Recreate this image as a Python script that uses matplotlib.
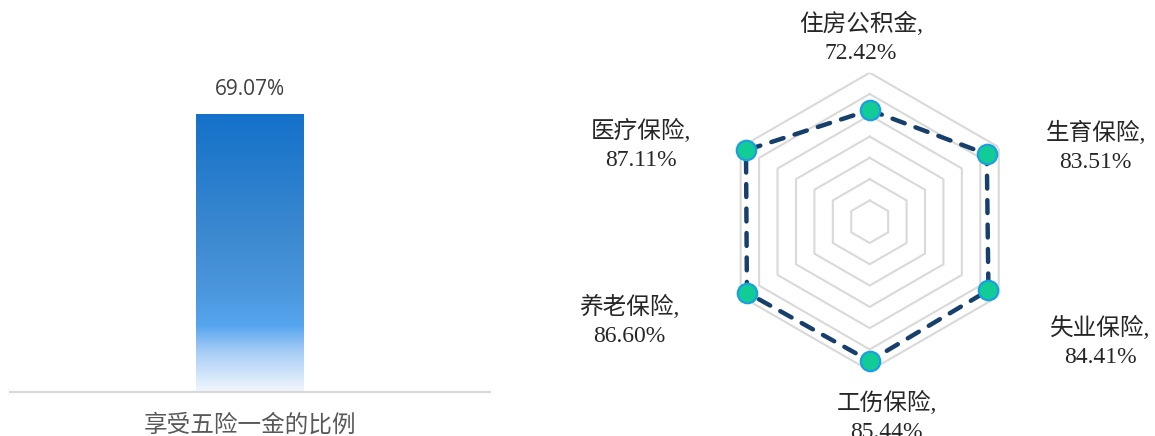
import numpy as np
import matplotlib
matplotlib.use("Agg")
import matplotlib.pyplot as plt
from matplotlib.colors import LinearSegmentedColormap

plt.rcParams['font.family'] = ['Liberation Serif', 'Noto Sans CJK SC', 'DejaVu Sans']

# left bar
bar_cats = ['享受五险一金的比例']
bar_vals = [69.07]

# radar (clockwise from top)
radar_cats = ['住房公积金', '生育保险', '失业保险', '工伤保险', '养老保险', '医疗保险']
radar_vals = [72.42, 83.51, 84.41, 85.44, 86.60, 87.11]
radar_ticks = [30, 40, 50, 60, 70, 80, 90]

fig = plt.figure(figsize=(11.55, 4.36), dpi=100)

# ---- bar chart ----
ax = fig.add_axes([10/1155, 44/436, 480/1155, 362/436])
bars = ax.bar(range(len(bar_vals)), bar_vals, width=0.223, color='none', zorder=2)

grad = LinearSegmentedColormap.from_list('g', [
    (0.0, '#1471C9'), (0.45, '#3E8AD0'), (0.62, '#4A95DB'),
    (0.76, '#55A5EE'), (0.86, '#A9CEF6'), (1.0, '#F2F7FD')])
for b in bars:
    x0, y0 = b.get_x(), b.get_y()
    w, h = b.get_width(), b.get_height()
    im = ax.imshow(np.linspace(0, 1, 256).reshape(-1, 1), cmap=grad, aspect='auto',
                   extent=(x0, x0 + w, y0, y0 + h), origin='upper', zorder=2)
    im.set_clip_path(b)
    ax.annotate(f'{b.get_height():.2f}%', (x0 + w/2, y0 + h), xytext=(0, 18),
                textcoords='offset points', ha='center', va='center',
                fontsize=15, color='#404040', family=['Open Sans', 'DejaVu Sans'])
ax.set_xlim(-0.5, 0.5)
ax.set_ylim(0, 90)

for s in ['top', 'right', 'left']:
    ax.spines[s].set_visible(False)
ax.spines['bottom'].set_color('#d9d9d9')
ax.spines['bottom'].set_linewidth(1.6)
ax.set_yticks([])
ax.set_xticks(range(len(bar_cats)), bar_cats)
ax.tick_params(axis='x', length=0, pad=16, labelsize=17, labelcolor='#595959')

# ---- radar ----
cx, cy, rr = 869.7, 221.7, 149
rax = fig.add_axes([(cx - rr)/1155, (436 - cy - rr)/436, 2*rr/1155, 2*rr/436], projection='polar')
rax.set_theta_zero_location('N')
rax.set_theta_direction(-1)
rax.set_ylim(20, 90)
rax.grid(False)
rax.spines['polar'].set_visible(False)
rax.set_xticks([])
rax.set_yticks([])
rax.patch.set_alpha(0)

theta = np.deg2rad(np.arange(len(radar_cats)) * 360 / len(radar_cats))
tc = np.append(theta, theta[0])
for t in radar_ticks:
    rax.plot(tc, [t] * len(tc), color='#d9d9d9', lw=1.5, zorder=1)

vc = radar_vals + radar_vals[:1]
rax.plot(tc, vc, color='#173F6B', lw=3.2, dashes=(2.9, 2.6), dash_capstyle='round',
         zorder=3, clip_on=False)
rax.plot(theta, radar_vals, 'o', ms=14, mfc='#12CC96', mec='#1A9FE0', mew=1.6,
         zorder=4, clip_on=False)

offsets = [(-9, 72), (109, 7), (112, -52), (17, -56), (-118, -28), (-105, 5)]
for th, v, name, (dx, dy) in zip(theta, radar_vals, radar_cats, offsets):
    rax.annotate(f'{name},\n{v:.2f}%', (th, v), xytext=(dx*0.72, dy*0.72),
                 textcoords='offset points', ha='center', va='center',
                 fontsize=17, color='#262626', linespacing=1.45,
                 annotation_clip=False)

fig.savefig('out.png', dpi=100)
